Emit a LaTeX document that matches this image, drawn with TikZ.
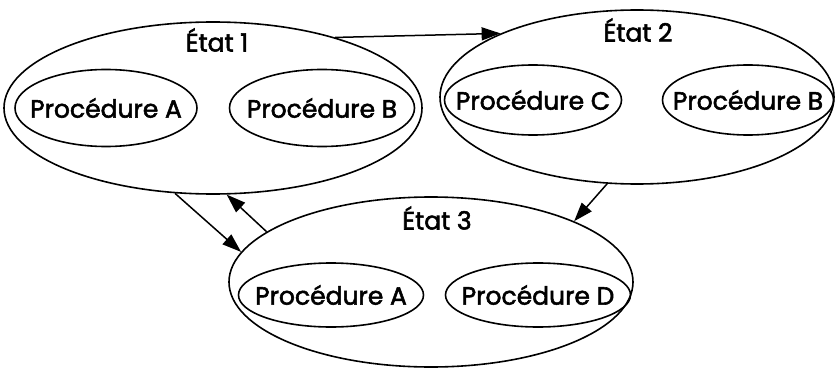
\documentclass[tikz,border=0pt]{standalone}
\usepackage{fontspec}
\setmainfont{Poppins}[FakeBold=2.2]
\usepackage{tikz}
\usetikzlibrary{arrows.meta,shapes.geometric}

\tikzset{
  etat/.style={draw,ellipse,line width=1.6pt,inner sep=0pt},
  proc/.style={draw,ellipse,line width=1.6pt,inner xsep=-20pt,inner ysep=0pt,font=\fontsize{25}{28}\selectfont},
  titre/.style={font=\fontsize{25}{28}\selectfont},
  fleche/.style={line width=1.5pt,-{Triangle[length=19pt,width=13pt]}}
}

\begin{document}
\begin{tikzpicture}[x=1pt,y=-1pt]
\useasboundingbox (0,0) rectangle (835,369);

% les trois etats
\node[etat,minimum width=418pt,minimum height=172pt] (e1) at (213,108) {};
\node[etat,minimum width=394pt,minimum height=174pt] (e2) at (637,97) {};
\node[etat,minimum width=404pt,minimum height=170pt] (e3) at (431,282) {};

\node[titre] (t1) at (217,40) {État 1};
\node[titre] (t2) at (638,30) {État 2};
\node[titre] (t3) at (437,218) {État 3};

% procedures
\node[proc,minimum width=182pt,minimum height=77pt] (p1a) at (106,108) {Procédure A};
\node[proc,minimum width=185pt,minimum height=77pt] (p1b) at (322,108) {Procédure B};
\node[proc,minimum width=177pt,minimum height=70pt] (p2c) at (533,100) {Procédure C};
\node[proc,minimum width=171pt,minimum height=70pt] (p2b) at (748,100) {Procédure B};
\node[proc,minimum width=185pt,minimum height=64pt] (p3a) at (331,295) {Procédure A};
\node[proc,minimum width=185pt,minimum height=64pt] (p3d) at (538,295) {Procédure D};

% transitions
\draw[fleche] (e1.30) -- (e2.155);
\draw[fleche] (e2.251) -- (e3.23);
\draw[fleche] (e1.246) -- (e3.171);
\draw[fleche] (e3.163) -- (e1.279);

\end{tikzpicture}
\end{document}
